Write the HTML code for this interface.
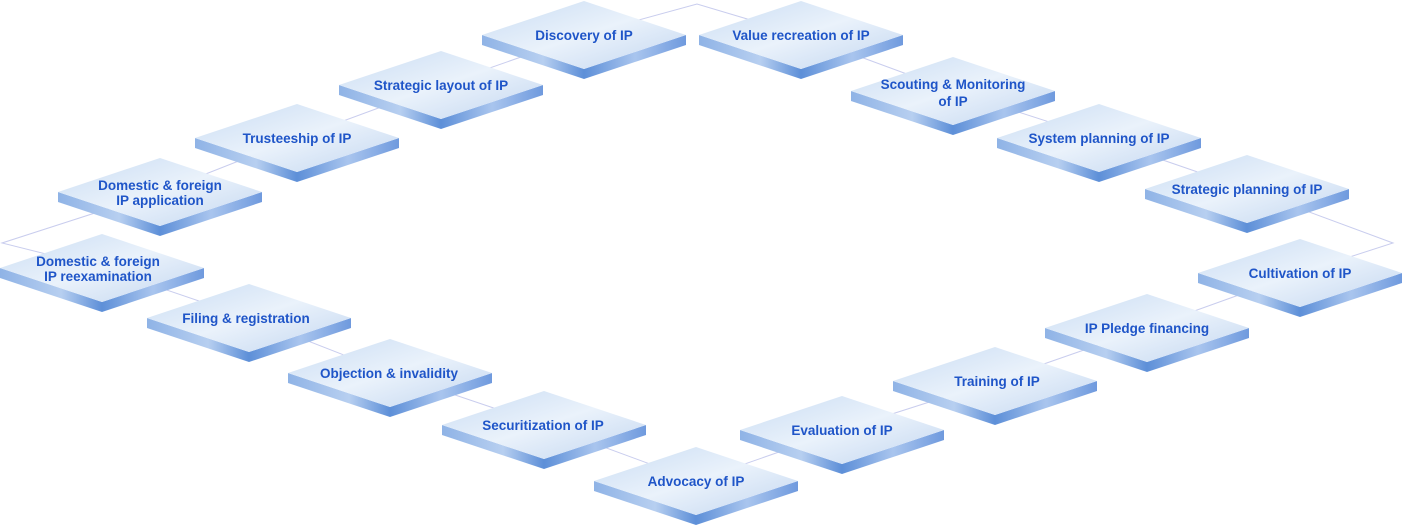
<!DOCTYPE html>
<html><head><meta charset="utf-8"><style>
html,body{margin:0;padding:0;background:#fff;}
svg{display:block;}
text{font-family:"Liberation Sans",Arial,sans-serif;font-weight:bold;font-size:13.5px;fill:#1f55c8;text-anchor:middle;}
</style></head><body>
<svg width="1402" height="526" viewBox="0 0 1402 526" xmlns="http://www.w3.org/2000/svg">
<defs>
<linearGradient id="top" x1="0" y1="0" x2="1" y2="1">
<stop offset="0" stop-color="#c9dcf3"/><stop offset="0.5" stop-color="#eaf2fb"/><stop offset="1" stop-color="#c2d6f0"/>
</linearGradient>
<linearGradient id="side" x1="0" y1="0" x2="1" y2="0">
<stop offset="0" stop-color="#8fb3e6"/><stop offset="0.3" stop-color="#b7cff0"/><stop offset="0.5" stop-color="#5d8fd8"/><stop offset="0.75" stop-color="#a9c5ee"/><stop offset="1" stop-color="#6f9ade"/>
</linearGradient>
<g id="t">
<polygon points="-102,0 0,34 102,0 102,10 0,44 -102,10" fill="url(#side)"/>
<polygon points="-102,0 0,-34 102,0 0,34" fill="url(#top)"/>
</g>
</defs>
<polyline fill="none" stroke="#c9cdee" stroke-width="1"
points="584,35 697,4 801,35 953,91 1099,138 1247,189 1393,243 1300,273 1147,328 995,381 842,430 696,481 544,425 390,373 249,318 102,268 2,243 160,192 297,138 441,85 584,35"/>
<use href="#t" x="584" y="35"/><text x="584" y="40">Discovery of IP</text>
<use href="#t" x="801" y="35"/><text x="801" y="40">Value recreation of IP</text>
<use href="#t" x="441" y="85"/><text x="441" y="90">Strategic layout of IP</text>
<use href="#t" x="953" y="91"/><text x="953" y="89">Scouting &amp; Monitoring</text><text x="953" y="106">of IP</text>
<use href="#t" x="297" y="138"/><text x="297" y="143">Trusteeship of IP</text>
<use href="#t" x="1099" y="138"/><text x="1099" y="143">System planning of IP</text>
<use href="#t" x="160" y="192"/><text x="160" y="190">Domestic &amp; foreign</text><text x="160" y="205">IP application</text>
<use href="#t" x="1247" y="189"/><text x="1247" y="194">Strategic planning of IP</text>
<use href="#t" x="102" y="268"/><text x="98" y="266">Domestic &amp; foreign</text><text x="98" y="281">IP reexamination</text>
<use href="#t" x="1300" y="273"/><text x="1300" y="278">Cultivation of IP</text>
<use href="#t" x="249" y="318"/><text x="246" y="323">Filing &amp; registration</text>
<use href="#t" x="1147" y="328"/><text x="1147" y="333">IP Pledge financing</text>
<use href="#t" x="390" y="373"/><text x="389" y="378">Objection &amp; invalidity</text>
<use href="#t" x="995" y="381"/><text x="997" y="386">Training of IP</text>
<use href="#t" x="544" y="425"/><text x="543" y="430">Securitization of IP</text>
<use href="#t" x="842" y="430"/><text x="842" y="435">Evaluation of IP</text>
<use href="#t" x="696" y="481"/><text x="696" y="486">Advocacy of IP</text>
</svg>
</body></html>
